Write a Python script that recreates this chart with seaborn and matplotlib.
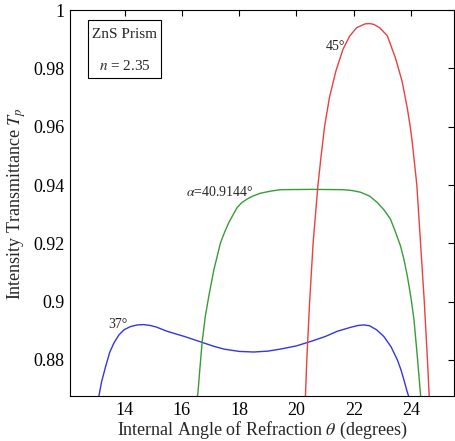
import numpy as np
import pandas as pd
import matplotlib
matplotlib.use("Agg")
import matplotlib.pyplot as plt
from matplotlib.patches import Rectangle
import seaborn as sns

# Data
x37 = [13.00, 13.10, 13.20, 13.34, 13.48, 13.63, 13.80, 13.98, 14.20, 14.45, 14.67, 14.90, 15.10, 15.49,
       16.10, 16.71, 17.10, 17.47, 18.00, 18.51, 19.00, 19.44, 20.00, 20.49, 21.00, 21.42, 21.90, 22.15,
       22.35, 22.55, 22.80, 23.05, 23.30, 23.52, 23.65, 23.75, 23.85, 23.92, 24.00]
y37 = [0.8640, 0.8673, 0.8725, 0.8777, 0.8825, 0.8858, 0.8885, 0.8903, 0.8914, 0.8920, 0.8921, 0.8918, 0.8913, 0.8898,
       0.8880, 0.8860, 0.8847, 0.8837, 0.8829, 0.8827, 0.8830, 0.8837, 0.8848, 0.8863, 0.8880, 0.8898, 0.8912, 0.8918,
       0.8920, 0.8917, 0.8903, 0.8880, 0.8845, 0.8800, 0.8765, 0.8731, 0.8695, 0.8673, 0.8640]

x409 = [16.50, 16.56, 16.63, 16.71, 16.82, 16.94, 17.12, 17.35, 17.50, 17.64, 17.80, 17.93, 18.10, 18.28,
        18.50, 18.75, 19.10, 19.44, 20.50, 21.64, 21.95, 22.24, 22.55, 22.82, 23.05, 23.28, 23.45, 23.63,
        23.75, 23.87, 24.00, 24.10, 24.20, 24.27, 24.33, 24.40]
y409 = [0.8650, 0.8685, 0.8770, 0.8863, 0.8950, 0.9018, 0.9110, 0.9202, 0.9240, 0.9271, 0.9300, 0.9323, 0.9340, 0.9352,
        0.9363, 0.9372, 0.9379, 0.9384, 0.9385, 0.9384, 0.9381, 0.9375, 0.9362, 0.9340, 0.9315, 0.9283, 0.9240, 0.9191,
        0.9145, 0.9087, 0.9010, 0.8938, 0.8830, 0.8750, 0.8679, 0.8600]

x45 = [20.30, 20.36, 20.46, 20.58, 20.75, 20.86, 20.98, 21.15, 21.37, 21.62, 21.85, 22.10, 22.40, 22.55,
       22.70, 22.90, 23.17, 23.46, 23.69, 23.87, 23.97, 24.04, 24.20, 24.33, 24.46, 24.57, 24.65]
y45 = [0.8640, 0.8800, 0.9000, 0.9200, 0.9400, 0.9500, 0.9600, 0.9700, 0.9789, 0.9865, 0.9910, 0.9940, 0.9953, 0.9954,
       0.9951, 0.9940, 0.9912, 0.9834, 0.9754, 0.9662, 0.9600, 0.9547, 0.9400, 0.9200, 0.9000, 0.8800, 0.8640]

series_names = ["37°", "α=40.9144°", "45°"]
series_colors = ["#3434e8", "#3a9a3a", "#ea4040"]

xticks = [14, 16, 18, 20, 22, 24]
yticks = [0.88, 0.90, 0.92, 0.94, 0.96, 0.98, 1.00]
ytick_labels = ["0.88", "0.9", "0.92", "0.94", "0.96", "0.98", "1"]

df = pd.concat([
    pd.DataFrame({"theta": x37, "T": y37, "alpha": series_names[0]}),
    pd.DataFrame({"theta": x409, "T": y409, "alpha": series_names[1]}),
    pd.DataFrame({"theta": x45, "T": y45, "alpha": series_names[2]}),
], ignore_index=True)

sns.set_style("white")
plt.rcParams["font.family"] = ["Liberation Serif", "DejaVu Serif"]
plt.rcParams["mathtext.fontset"] = "stix"

fig = plt.figure(figsize=(4.55, 4.41), dpi=100)
ax = fig.add_axes([0.154, 0.102, 0.844, 0.875])

sns.lineplot(data=df, x="theta", y="T", hue="alpha", palette=series_colors,
             hue_order=series_names, estimator=None, sort=False, linewidth=1.0,
             legend=False, ax=ax)

ax.set_xlim(12.1, 25.5)
ax.set_ylim(0.8676, 1.0)
ax.set_xticks(xticks)
ax.set_xticklabels([str(t) for t in xticks])
ax.set_yticks(yticks)
ax.set_yticklabels(ytick_labels)
ax.tick_params(direction="in", length=4, width=0.8, top=True, right=True,
               labelsize=13, colors="black", pad=4)
for s in ax.spines.values():
    s.set_visible(True)
    s.set_color("black")
    s.set_linewidth(0.8)

ax.set_xlabel(r"Internal Angle of Refraction $\theta$ (degrees)", fontsize=13, labelpad=1)
ax.set_ylabel(r"Intensity Transmittance $T_p$", fontsize=13, labelpad=4)

ax.text(13.76, 0.8921, "37°", fontsize=10, ha="center", va="center")
ax.text(21.35, 0.9876, "45°", fontsize=10, ha="center", va="center")
ax.text(17.33, 0.9376, r"$\alpha$=40.9144°", fontsize=10, ha="center", va="center")

ax.add_patch(Rectangle((0.047, 0.824), 0.190, 0.150, transform=ax.transAxes,
                       fill=False, ec="black", lw=0.8))
ax.text(0.142, 0.938, "ZnS Prism", transform=ax.transAxes,
        fontsize=11, ha="center", va="center")
ax.text(0.142, 0.856, r"$n$ = 2.35", transform=ax.transAxes,
        fontsize=11, ha="center", va="center")

fig.savefig("out.png", dpi=100)
